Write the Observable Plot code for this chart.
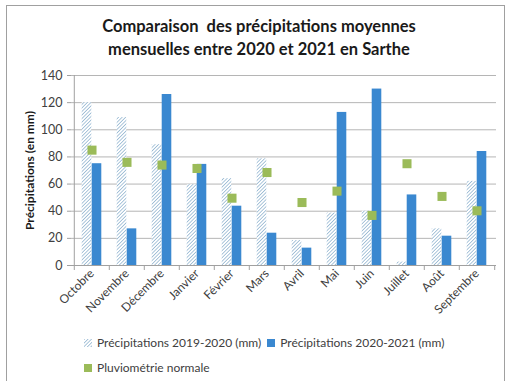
<!DOCTYPE html>
<html><head><meta charset="utf-8">
<script src="https://cdn.jsdelivr.net/npm/d3@7"></script>
<script src="https://cdn.jsdelivr.net/npm/@observablehq/plot@0.6"></script>
<style>
body{margin:0;background:#fff;font-family:Lato,"Open Sans",sans-serif;}
#wrap{position:relative;width:508px;height:381px;overflow:hidden;background:#fff;}
#frame{position:absolute;left:6px;top:5px;width:499px;height:420px;border:1px solid #a0a0a0;box-sizing:border-box;pointer-events:none;}
#title{height:62px;box-sizing:border-box;padding-top:15px;padding-left:10px;text-align:center;font-weight:bold;font-size:16.5px;line-height:23px;color:#1a1a1a;}
#chart{height:268px;}
#legend{font-size:12px;color:#404040;padding-left:84px;}
.row{display:flex;align-items:center;height:25px;}
.item{display:flex;align-items:center;margin-right:6px;}
.item svg{margin-right:5px;}
</style>
</head><body>
<div id="wrap">
<div id="frame"></div>
<div id="title">Comparaison&nbsp; des précipitations moyennes<br>mensuelles entre 2020 et 2021 en Sarthe</div>
<div id="chart"></div>
<div id="legend"></div>
</div>
<script>
const months = ["Octobre","Novembre","Décembre","Janvier","Février","Mars","Avril","Mai","Juin","Juillet","Août","Septembre"];
const precip1920 = [120,109,89,59.5,64,78.6,18.4,38.6,40,2.5,27,62];
const precip2021 = [75,27,126,74.5,43.7,23.8,12.8,112.8,130,52,21.6,84];
const normale = [85,76,74,71.5,49.6,68.5,46.4,54.8,36.9,75,50.9,40.3];
const yTicks = [0,20,40,60,80,100,120,140];
const seriesNames = ["Précipitations 2019-2020 (mm)","Précipitations 2020-2021 (mm)","Pluviométrie normale"];
const yLabel = "Précipitations (en mm)";
const colors = {hatch:"#7ea8c8", blue:"#3a88d0", green:"#9bbb59", grid:"#b5b5b5", axis:"#a0a0a0"};

const data = months.map((m,i)=>({month:m, a:precip1920[i], b:precip2021[i], n:normale[i]}));

const W=508, H=268, mL=71, mR=12, mT=13, mB=65;
const step = (W-mL-mR)/months.length;
const bw = 10;

const chart = Plot.plot({
  width:W, height:H, marginLeft:mL, marginRight:mR, marginTop:mT, marginBottom:mB,
  style:{fontFamily:"Lato, 'Open Sans', sans-serif", fontSize:"12px", color:"#404040", background:"transparent", overflow:"visible"},
  x:{domain:months, padding:0, label:null},
  y:{domain:[0,140], label:null},
  marks:[
    Plot.ruleY(yTicks.slice(1), {y:d=>d, stroke:colors.grid}),
    Plot.barY(data, {x:"month", y:"a", fill:"url(#hatch)", insetLeft:step/2-bw, insetRight:step/2}),
    Plot.barY(data, {x:"month", y:"b", fill:colors.blue, insetLeft:step/2, insetRight:step/2-bw}),
    Plot.dot(data, {x:"month", y:"n", symbol:"square", r:5.1, fill:colors.green, stroke:null}),
    Plot.ruleY([0], {stroke:colors.axis}),
    Plot.ruleX([months[0]], {x:d=>d, dx:-step/2, stroke:colors.axis}),
    Plot.ruleX(months, {x:d=>d, dx:-step/2, y1:0, y2:0, insetBottom:-5, stroke:colors.axis}),
    Plot.ruleX([months[months.length-1]], {x:d=>d, dx:step/2, y1:0, y2:0, insetBottom:-5, stroke:colors.axis}),
    Plot.axisY({ticks:yTicks, tickSize:4, tickPadding:5, stroke:colors.axis, fill:"#404040", fontSize:12.5, label:null}),
    Plot.axisX({tickSize:0, tickRotate:-45, tickPadding:6, fill:"#404040", fontSize:12, label:null}),
    Plot.text([yLabel], {text:d=>d, frameAnchor:"left", textAnchor:"middle", rotate:-90, dx:-41, fontWeight:"bold", fontSize:12, fill:"#1a1a1a"})
  ]
});
chart.insertAdjacentHTML("afterbegin",
  `<defs><pattern id="hatch" patternUnits="userSpaceOnUse" width="2.5" height="2.5" patternTransform="rotate(45)">
     <rect width="2.5" height="2.5" fill="#ffffff"/>
     <line x1="0" y1="0" x2="0" y2="2.5" stroke="${colors.hatch}" stroke-width="1.3"/>
   </pattern></defs>`);
document.getElementById("chart").appendChild(chart);

const sw = (fill) => `<svg width="8" height="8"><rect width="8" height="8" fill="${fill}"/></svg>`;
const fills = ["url(#hatch)", colors.blue, colors.green];
document.getElementById("legend").innerHTML =
  `<div class="row">` +
  [0,1].map(i=>`<div class="item">${sw(fills[i])}<span>${seriesNames[i]}</span></div>`).join("") +
  `</div><div class="row"><div class="item">${sw(fills[2])}<span>${seriesNames[2]}</span></div></div>`;
</script>
</body></html>
